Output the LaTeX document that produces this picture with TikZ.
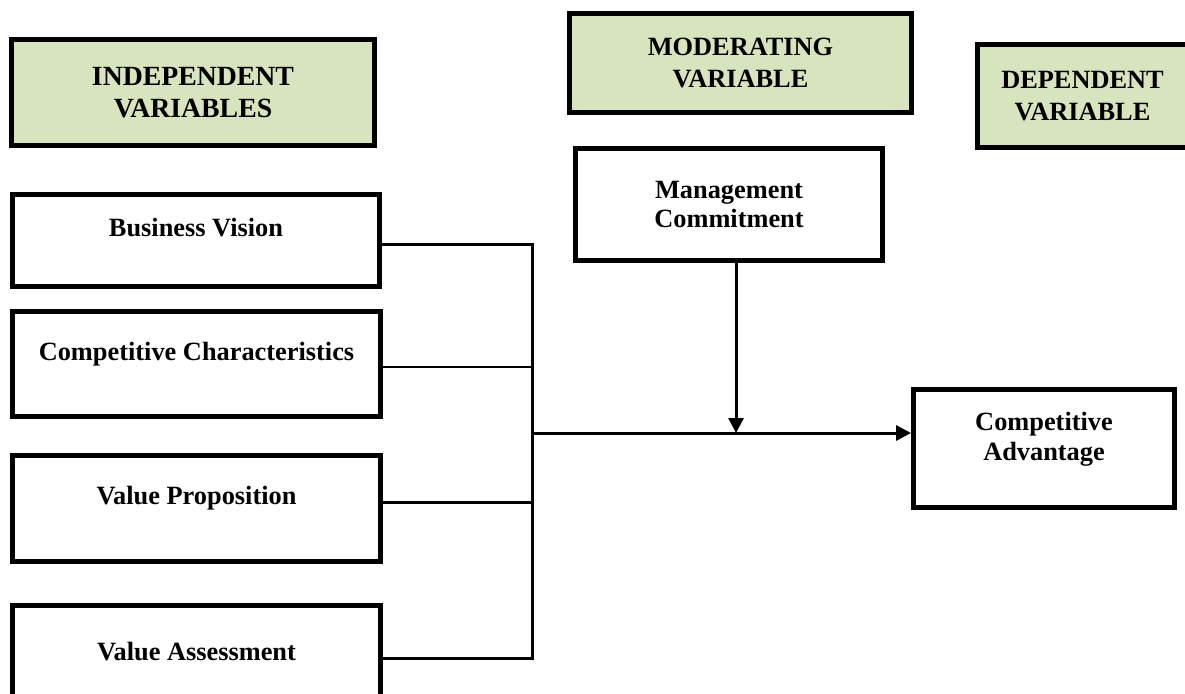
\documentclass[tikz,border=0pt]{standalone}
\usepackage{fontspec}
\setmainfont{Liberation Serif}
\usetikzlibrary{arrows.meta, calc, positioning}
\definecolor{headgreen}{RGB}{215,228,189}

\tikzset{
  headbox/.style={draw, line width=2.9pt, fill=headgreen, align=center,
    font=\fontsize{15}{18}\selectfont\bfseries},
  varbox/.style={draw, line width=2.8pt, align=center,
    font=\fontsize{15}{17}\selectfont\bfseries},
  lowtext/.style={text height=11pt, text depth=15pt},
  link/.style={line width=1.7pt},
  flow/.style={line width=1.7pt, -{Triangle[length=0.3cm, width=0.3cm]}}
}

\begin{document}
\begin{tikzpicture}[x=0.02cm, y=-0.02cm]
  \useasboundingbox (0,0) rectangle (1185,693);
  \node[headbox, minimum width=7.26cm, minimum height=2.12cm,
    font=\fontsize{15.8}{18}\selectfont\bfseries] (indep) at (193,92.5)
    {INDEPENDENT\\VARIABLES};
  \node[headbox, minimum width=6.84cm, minimum height=1.98cm] (moder) at (740.5,63)
    {MODERATING\\VARIABLE};
  \node[headbox, minimum width=4.2cm, minimum height=2.06cm] (dep) at (1082.5,96)
    {DEPENDENT\\VARIABLE};

  \node[varbox, lowtext, minimum width=7.34cm, minimum height=1.84cm] (bv) at (196,240.5)
    {Business Vision};
  \node[varbox, lowtext, minimum width=7.36cm, minimum height=2.1cm] (cc) at (196.5,364)
    {Competitive Characteristics};
  \node[varbox, lowtext, minimum width=7.36cm, minimum height=2.12cm] (vp) at (196.5,508.5)
    {Value Proposition};
  \node[varbox, lowtext, minimum width=7.36cm, minimum height=2.36cm] (va) at (196.5,664.5)
    {Value Assessment};
  \node[varbox, minimum width=6.14cm, minimum height=2.24cm] (mc) at (729,204.5)
    {Management\\Commitment};
  \node[varbox, minimum width=5.22cm, minimum height=2.36cm] (ca) at (1044,448.5)
    {Competitive\\Advantage\\[-3pt]\mbox{}};

  \coordinate (hub) at (532,433);
  \draw[link] ([yshift=-2pt]bv.east) -| ([yshift=3.7pt]va.east -| hub) -- ([yshift=3.7pt]va.east);
  \draw[link] ([yshift=-1.7pt]cc.east) -- ([yshift=-1.7pt]cc.east -| hub);
  \draw[link] ([yshift=3.7pt]vp.east) -- ([yshift=3.7pt]vp.east -| hub);
  \draw[flow] (hub) -- (hub -| ca.west);
  \draw[flow] ([xshift=4pt]mc.south) -- ([xshift=4pt]mc.south |- hub);
\end{tikzpicture}
\end{document}
